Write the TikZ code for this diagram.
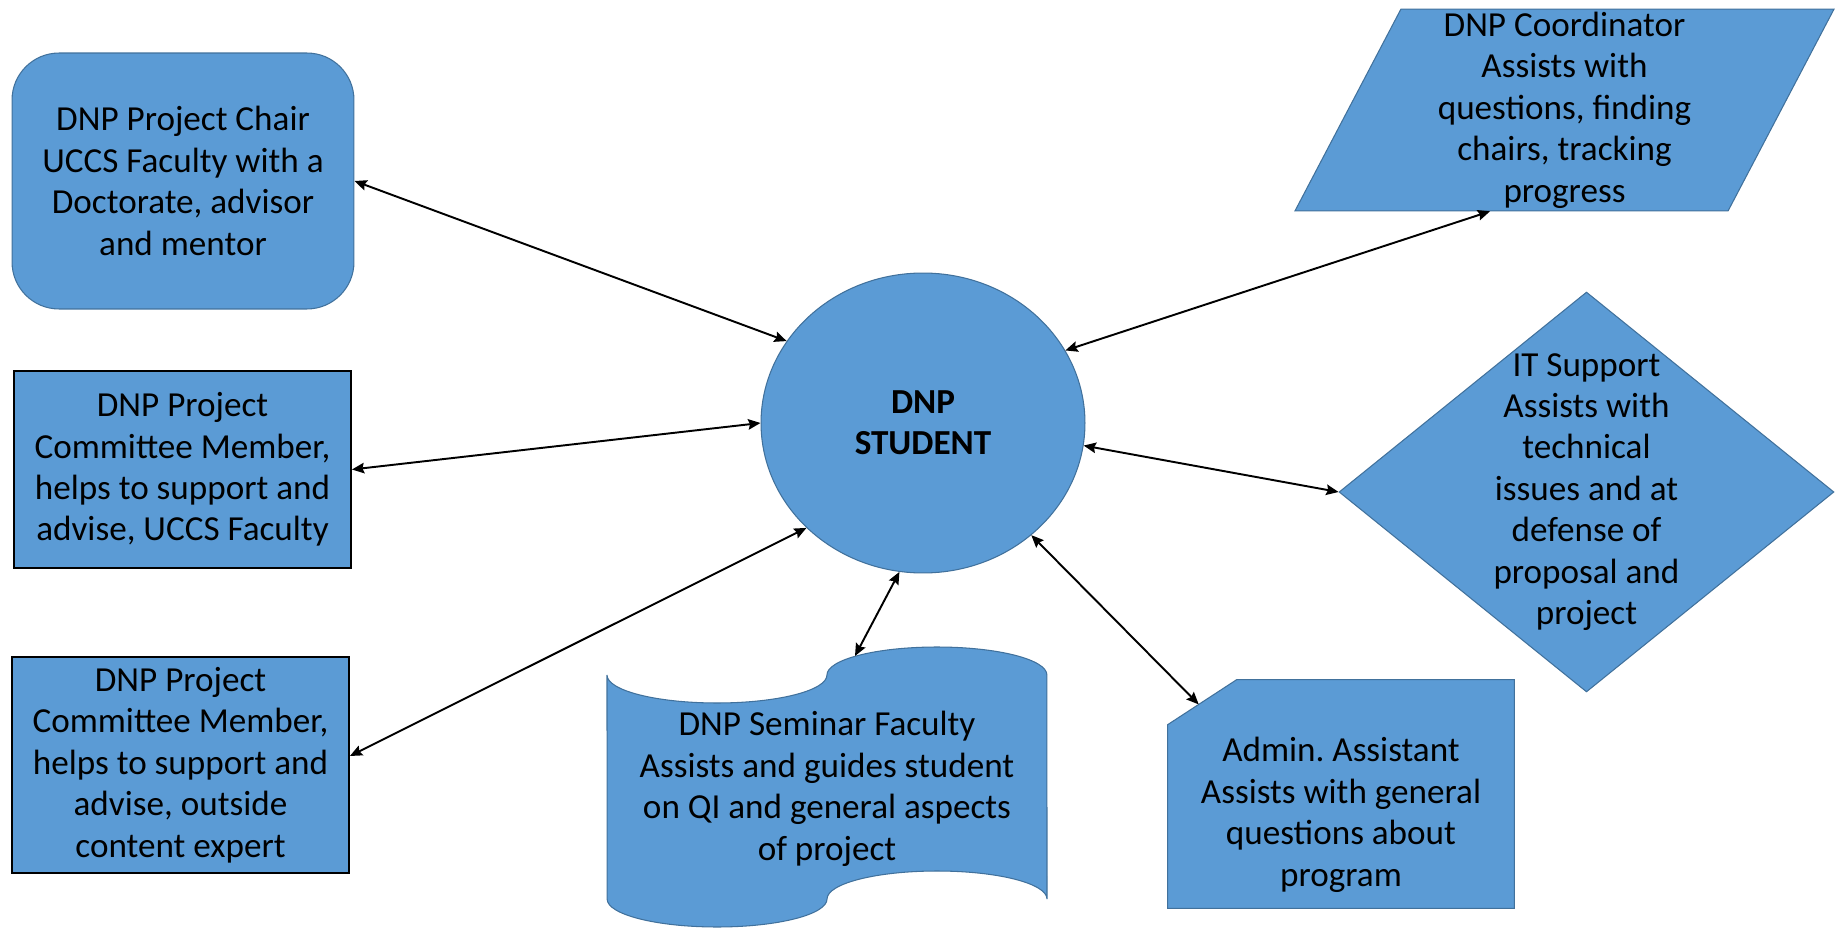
\documentclass[tikz,border=0pt]{standalone}
\usepackage{fontspec}
\setmainfont{Carlito}
\usepackage{tikz}
\usetikzlibrary{shapes.geometric,arrows.meta,calc}
\definecolor{boxblue}{HTML}{5B9BD5}
\definecolor{edgeblue}{HTML}{41719C}
\newcommand{\txt}{\fontsize{20}{23.6}\selectfont}
\tikzset{
  blob/.style={fill=boxblue,draw=edgeblue,line width=0.6pt,font=\txt,align=center,inner sep=0pt},
  sqbox/.style={blob,rectangle,draw=black,line width=1.1pt},
  words/.style={font=\txt,align=center,inner sep=0pt},
  wave/.style={x radius=2.2cm,y radius=0.56cm},
  link/.style={{Stealth[length=7pt,width=6pt,inset=1pt]}-{Stealth[length=7pt,width=6pt,inset=1pt]},line width=1.1pt}
}
\frenchspacing

\begin{document}
\begin{tikzpicture}[x=0.02cm,y=-0.02cm]
\useasboundingbox (0,0) rectangle (1837,929);

\node[blob,rectangle,rounded corners=0.94cm,minimum width=6.84cm,minimum height=5.12cm] (chair) at (183,181) {DNP Project Chair\\UCCS Faculty with a\\Doctorate, advisor\\and mentor};
\node[sqbox,minimum width=6.74cm,minimum height=3.94cm] (member) at (182.5,469.5) {DNP Project\\Committee Member,\\helps to support and\\advise, UCCS Faculty};
\node[sqbox,minimum width=6.74cm,minimum height=4.32cm] (expert) at (180.5,765) {DNP Project\\Committee Member,\\helps to support and\\advise, outside\\content expert};
\node[blob,ellipse,minimum width=6.48cm,minimum height=6cm,font=\txt\bfseries] (student) at (923,423) {DNP\\STUDENT};

% seminar tape
\coordinate (tape) at (607,675);
\coordinate (tapetop) at (855,656);
\draw[blob] (tape) arc[wave,start angle=180,end angle=360] arc[wave,start angle=180,end angle=0]
  -- (1047,899) arc[wave,start angle=0,end angle=180] arc[wave,start angle=360,end angle=180] -- cycle;
\node[words] (seminar) at (827,789) {DNP Seminar Faculty\\Assists and guides student\\on QI and general aspects\\of project};

\node[blob,trapezium,trapezium left angle=62.3,trapezium right angle=117.7,trapezium stretches body,inner ysep=1.5pt,minimum width=10.78cm] (coord) at (1564.5,110) {DNP Coordinator\\Assists with\\questions, finding\\chairs, tracking\\progress};
\node[blob,diamond,aspect=1.24,minimum width=9.9cm,minimum height=8cm] (it) at (1586.5,492) {};
\node[words] (ittext) at (it) {IT Support\\Assists with\\technical\\issues and at\\defense of\\proposal and\\project};

% admin box with the cut corner
\node[minimum width=6.92cm,minimum height=4.56cm] (admin) at (1341,794) {};
\coordinate (cuta) at ([yshift=-0.9cm]admin.north west);
\coordinate (cutb) at ([xshift=1.38cm]admin.north west);
\draw[blob] (cuta) -- (cutb) -- (admin.north east) -- (admin.south east) -- (admin.south west) -- cycle;
\node[words] (admintext) at (1341,815) {Admin. Assistant\\Assists with general\\questions about\\program};

\draw[link] (chair.east) -- (student.149.3);
\draw[link] (member.east) -- (student.west);
\draw[link] ([yshift=0.18cm]expert.east) -- (student.222.4);
\draw[link] (tapetop) -- (student.261.3);
\draw[link] ($(cuta)!0.45!(cutb)$) -- (student.314.5);
\draw[link] (it.west) -- (student.352.3);
\draw[link] ([xshift=-1.49cm]coord.south) -- (student.27);
\end{tikzpicture}
\end{document}
